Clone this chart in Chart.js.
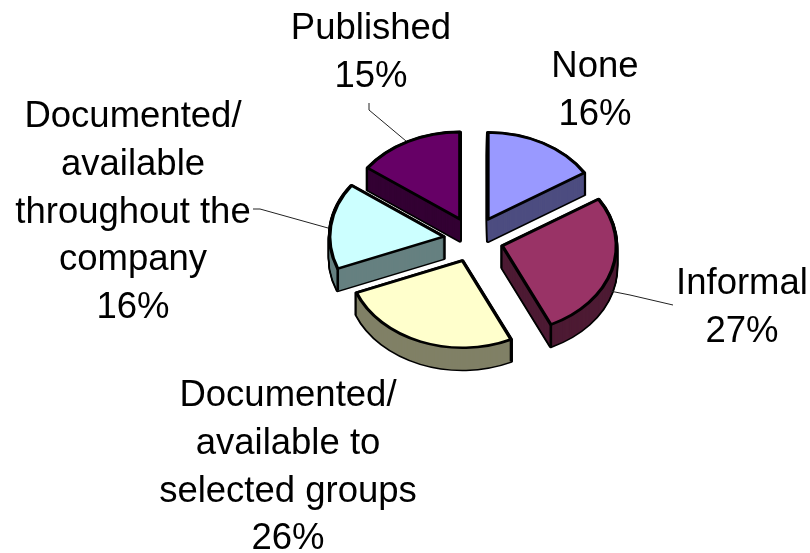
<!DOCTYPE html>
<html><head><meta charset="utf-8">
<style>html,body{margin:0;padding:0;background:#fff}#w{position:relative;width:810px;height:553px}</style>
<script src="https://cdn.jsdelivr.net/npm/chart.js@4"></script>
</head><body><div id="w"><canvas id="c" width="810" height="553"></canvas></div>
<script>
const categories = ['None', 'Informal', 'Documented/ available to selected groups', 'Documented/ available throughout the company', 'Published'];
const values = [16, 27, 26, 16, 15];
const topColors = ['#9999FF', '#993366', '#FFFFCC', '#CCFFFF', '#660066'];
const wallColors = ['#4D4D80', '#4D1A33', '#808066', '#668080', '#330033'];
const labelLines = [['None'], ['Informal'], ['Documented/', 'available to', 'selected groups'], ['Documented/', 'available', 'throughout the', 'company'], ['Published']];

const style = {
  squash: 0.763, depth: 22, explode: 30, radius: 114,
  font: '36.5px "Liberation Sans"', lineGap: 47.8,
  drawOrder: [4, 0, 3, 1, 2],
  frontCorners: [[1, 'endAngle'], [2, 'startAngle'], [3, 'startAngle']],
  labelAnchors: [[595, 67], [742, 284], [288, 396], [133, 117], [371, 29]],
  leaders: [
    [[610, 291], [630, 295], [673, 305]],
    [[253, 209], [260, 209], [328, 228]],
    [[369, 103], [369, 110], [406, 141]]
  ]
};

const pie3d = {
  id: 'pie3d',
  beforeDatasetDraw(chart, args) {
    const ctx = chart.ctx, arcs = args.meta.data;
    const place = (el, dy) => {
      const p = el.getProps(['x', 'y', 'startAngle', 'endAngle']);
      const mid = (p.startAngle + p.endAngle) / 2;
      ctx.translate(p.x, p.y + dy);
      ctx.scale(1, style.squash);
      ctx.translate(-p.x + Math.cos(mid) * style.explode, -p.y + Math.sin(mid) * style.explode);
    };
    const paint = (el, dy, fill, border, width) => {
      const saved = el.options;
      el.options = Object.assign({}, saved, {backgroundColor: fill, borderColor: border, borderWidth: width, borderJoinStyle: 'round'});
      ctx.save(); place(el, dy); el.draw(ctx); ctx.restore();
      el.options = saved;
    };
    style.drawOrder.forEach(i => {
      const el = arcs[i];
      for (let d = style.depth; d >= 0; d -= 1) paint(el, d, '#000', '#000', 4);
      for (let d = style.depth; d >= 0; d -= 1) paint(el, d, wallColors[i], wallColors[i], 0);
      style.frontCorners.filter(c => c[0] === i).forEach(c => {
        const p = el.getProps(['x', 'y', 'startAngle', 'endAngle', 'outerRadius']);
        const mid = (p.startAngle + p.endAngle) / 2, a = p[c[1]];
        const px = p.x + Math.cos(mid) * style.explode + Math.cos(a) * p.outerRadius;
        const py = p.y + (Math.sin(mid) * style.explode + Math.sin(a) * p.outerRadius) * style.squash;
        ctx.save(); ctx.strokeStyle = '#000'; ctx.lineWidth = 2.6;
        ctx.beginPath(); ctx.moveTo(px, py); ctx.lineTo(px, py + style.depth); ctx.stroke(); ctx.restore();
      });
      paint(el, 0, topColors[i], '#000', 3.4);
    });
    return false;
  },
  afterDraw(chart) {
    const ctx = chart.ctx;
    ctx.save();
    ctx.strokeStyle = '#222'; ctx.lineWidth = 1;
    style.leaders.forEach(l => {
      ctx.beginPath();
      l.forEach((p, i) => i ? ctx.lineTo(p[0], p[1]) : ctx.moveTo(p[0], p[1]));
      ctx.stroke();
    });
    ctx.fillStyle = '#000'; ctx.font = style.font;
    ctx.textAlign = 'center'; ctx.textBaseline = 'middle';
    labelLines.forEach((lines, i) => {
      const [x, y] = style.labelAnchors[i];
      lines.concat(values[i] + '%').forEach((t, j) => ctx.fillText(t, x, y + j * style.lineGap));
    });
    ctx.restore();
  }
};

new Chart(document.getElementById('c'), {
  type: 'pie',
  data: {labels: categories, datasets: [{data: values, backgroundColor: topColors, borderColor: '#000', borderWidth: 3}]},
  options: {
    responsive: false, animation: false, radius: style.radius,
    layout: {padding: {left: 137, right: 0, top: 0, bottom: 74}},
    plugins: {legend: {display: false}, tooltip: {enabled: false}}
  },
  plugins: [pie3d]
});
</script></body></html>
